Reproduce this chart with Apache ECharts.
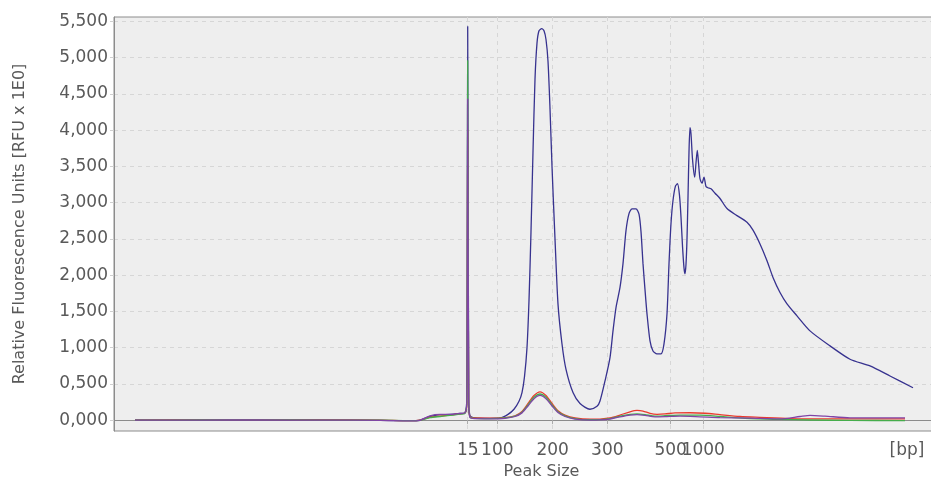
<!DOCTYPE html>
<html>
<head>
<meta charset="utf-8">
<script src="https://cdn.jsdelivr.net/npm/echarts@6/dist/echarts.min.js"></script>
<style>
html,body{margin:0;padding:0;background:#fff;}
#chart{width:931px;height:481px;}
</style>
</head>
<body>
<div id="chart"></div>
<script>
// x = scan position along the run, y = RFU
const navyTrace = [
  [135,0],[200,2],[260,0],[320,3],[380,-3],[410,-8],[420,0],[430,50],[440,75],[450,78],[458,90],[465,105],
  [466.8,300],[467.7,5430],[468.7,300],[470,60],[475,30],[490,25],[500,30],[508,80],[514,150],[519,260],[522,380],
  [524.5,600],[527,1000],[529,1650],[531,2600],[533,3700],[535,4700],[537,5200],[539,5370],[541.7,5400],[544,5370],
  [546,5250],[548,4950],[550,4300],[552,3500],[555,2500],[558,1600],[562,1050],[566,700],[573,380],[580,230],
  [590,150],[597,190],[600,263],[605,540],[610,862],[613,1231],[616,1553],[620,1830],[623,2158],[626,2614],
  [629,2849],[632,2914],[636,2914],[639,2840],[641,2600],[643,2158],[645,1800],[647,1466],[650,1093],[653,954],
  [657,913],[661,913],[664,1051],[667,1466],[669,2158],[671,2711],[673,3029],[675.5,3230],[677.5,3260],
  [679.5,3100],[681,2800],[682.5,2400],[684,2100],[685,2019],[686,2150],[687,2500],[688,3075],[689,3700],
  [690,4035],[691,3950],[692.5,3600],[694.7,3351],[696,3550],[697.3,3720],[698.5,3550],[700,3329],[702,3268],
  [704,3351],[706,3222],[708,3205],[711,3190],[715,3130],[720,3057],[727,2918],[737,2821],[747,2729],[753,2620],
  [760,2430],[767,2199],[773,1968],[780,1761],[787,1604],[797,1438],[810,1231],[830,1024],[850,840],[870,747],
  [890,609],[913,447]
];
const redTrace = [
  [135,0],[200,3],[260,5],[320,2],[380,0],[410,-8],[420,0],[430,40],[440,55],[450,70],[458,85],[465,100],
  [466.8,200],[467.7,4000],[468.7,200],[470,50],[475,30],[490,28],[505,35],[515,60],[522,120],[528,230],
  [534,340],[540,390],[546,340],[552,230],[558,130],[565,70],[575,30],[590,12],[600,15],[610,30],[620,70],
  [630,115],[637,134],[643,125],[650,93],[657,80],[665,85],[675,100],[690,102],[705,95],[720,75],[740,50],
  [760,38],[790,22],[830,18],[870,18],[905,18]
];
const greenTrace = [
  [135,0],[200,2],[260,3],[320,1],[380,-2],[410,-8],[420,-2],[430,35],[440,50],[450,65],[458,80],[465,95],
  [466.8,250],[467.7,4960],[468.7,250],[470,40],[475,25],[490,22],[505,30],[515,55],[522,110],[528,210],
  [534,315],[540,360],[546,315],[552,210],[558,115],[565,60],[575,22],[590,5],[600,8],[610,20],[620,55],
  [630,80],[637,85],[645,75],[655,55],[665,60],[680,70],[700,68],[720,50],[745,25],[780,10],[810,2],
  [850,-4],[905,-6]
];
const purpleTrace = [
  [135,0],[200,1],[260,2],[320,0],[380,-3],[410,-10],[420,-2],[430,60],[440,80],[450,80],[458,90],[465,100],
  [466.8,250],[467.7,4430],[468.7,250],[470,35],[475,20],[490,18],[505,25],[515,50],[522,100],[528,195],
  [534,295],[540,340],[546,295],[552,195],[558,105],[565,50],[575,15],[590,0],[600,3],[610,15],[620,45],
  [630,70],[637,75],[645,65],[655,45],[665,48],[680,55],[700,46],[720,35],[750,28],[780,18],[800,50],
  [810,65],[825,55],[850,32],[905,32]
];
// x tick positions and their size labels
const sizeTickPos = [467.7, 497.3, 552.7, 607.3, 670.7, 703.3];
const sizeTickLabels = ['15', '100', '200', '300', '500', '1000'];
const unitLabelPos = 907;
const unitLabel = '[bp]';
const rfuTicks = [0,500,1000,1500,2000,2500,3000,3500,4000,4500,5000,5500];

const labelMap = {};
sizeTickPos.forEach((p, i) => { labelMap[p] = sizeTickLabels[i]; });
labelMap[unitLabelPos] = unitLabel;

const fmtRFU = v => Math.floor(v / 1000) + ',' + String(v % 1000).padStart(3, '0');

const chart = echarts.init(document.getElementById('chart'), null, {renderer: 'canvas'});
const textColor = '#595959';
const font = 'DejaVu Sans';

const mkSeries = (name, data, color) => ({
  name, type: 'line', data, showSymbol: false, symbol: 'none',
  smooth: 0.25, lineStyle: {color, width: 1.3}, itemStyle: {color}, animation: false
});

chart.setOption({
  animation: false,
  backgroundColor: '#ffffff',
  grid: {left: 114, right: -2, top: 17, bottom: 50, show: true, backgroundColor: '#eeeeee',
         borderColor: '#8c8c8c', borderWidth: 1, outerBoundsMode: 'none', containLabel: false},
  xAxis: {
    type: 'value', min: 114, max: 933,
    name: 'Peak Size', nameLocation: 'middle', nameGap: 31,
    nameTextStyle: {fontFamily: font, fontSize: 16, color: textColor, padding: [0, 0, 0, 36]},
    axisLine: {show: true, lineStyle: {color: '#8c8c8c'}},
    axisTick: {show: true, length: 4, customValues: sizeTickPos, lineStyle: {color: '#aaaaaa'}},
    axisLabel: {customValues: sizeTickPos.concat([unitLabelPos]), formatter: v => labelMap[v] || '',
                fontFamily: font, fontSize: 17, color: textColor, margin: 11, hideOverlap: false},
    splitLine: {show: true, lineStyle: {color: '#d6d6d6', type: [4, 4], width: 1}}
  },
  yAxis: {
    type: 'value', min: -150, max: 5560,
    name: 'Relative Fluorescence Units [RFU x 1E0]', nameLocation: 'middle', nameGap: 86,
    nameTextStyle: {fontFamily: font, fontSize: 16, color: textColor},
    axisLine: {show: true, lineStyle: {color: '#8c8c8c'}},
    axisTick: {show: true, length: 4, customValues: rfuTicks, lineStyle: {color: '#d0d0d0'}},
    axisLabel: {customValues: rfuTicks, formatter: fmtRFU, fontFamily: font, fontSize: 17,
                color: textColor, margin: 6},
    splitLine: {show: true, lineStyle: {color: '#d6d6d6', type: [4, 4], width: 1}}
  },
  series: [
    mkSeries('Trace 1', navyTrace, '#37328f'),
    mkSeries('Trace 2', redTrace, '#ea3b2e'),
    mkSeries('Trace 3', greenTrace, '#45ad4c'),
    mkSeries('Trace 4', purpleTrace, '#8044a6')
  ]
});
</script>
</body>
</html>
